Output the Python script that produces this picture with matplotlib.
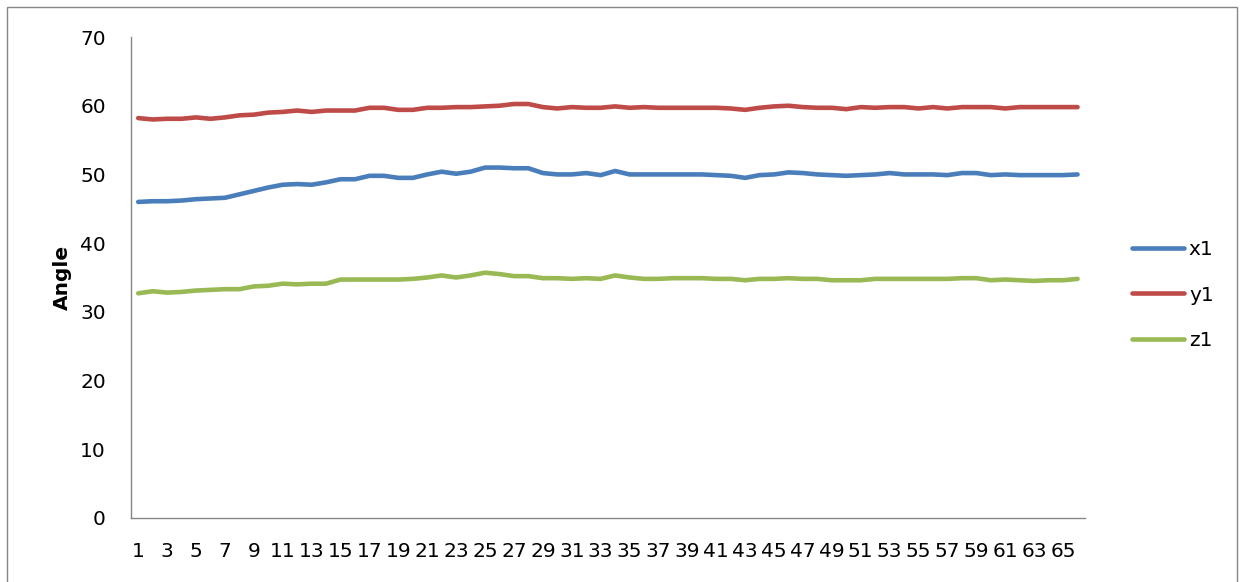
import matplotlib
matplotlib.use("Agg")
import matplotlib.pyplot as plt
from matplotlib.patches import Rectangle

# Sample index (category axis) and the three measured angles
samples = list(range(1, 67))
x1 = [46.0, 46.1, 46.1, 46.2, 46.4, 46.5, 46.6, 47.1, 47.6, 48.1,
      48.5, 48.6, 48.5, 48.85, 49.3, 49.3, 49.8, 49.8, 49.5, 49.5,
      50.0, 50.4, 50.1, 50.4, 51.0, 51.0, 50.9, 50.9, 50.2, 50.0,
      50.0, 50.2, 49.9, 50.5, 50.0, 50.0, 50.0, 50.0, 50.0, 50.0,
      49.9, 49.8, 49.5, 49.9, 50.0, 50.3, 50.2, 50.0, 49.9, 49.8,
      49.9, 50.0, 50.2, 50.0, 50.0, 50.0, 49.9, 50.2, 50.2, 49.9,
      50.0, 49.9, 49.9, 49.9, 49.9, 50.0]
y1 = [58.2, 58.0, 58.1, 58.1, 58.3, 58.1, 58.3, 58.6, 58.7, 59.0,
      59.1, 59.3, 59.1, 59.3, 59.3, 59.3, 59.7, 59.7, 59.4, 59.4,
      59.7, 59.7, 59.8, 59.8, 59.9, 60.0, 60.25, 60.25, 59.8, 59.6,
      59.8, 59.7, 59.7, 59.9, 59.7, 59.8, 59.7, 59.7, 59.7, 59.7,
      59.7, 59.6, 59.4, 59.7, 59.9, 60.0, 59.8, 59.7, 59.7, 59.5,
      59.8, 59.7, 59.8, 59.8, 59.6, 59.8, 59.6, 59.8, 59.8, 59.8,
      59.6, 59.8, 59.8, 59.8, 59.8, 59.8]
z1 = [32.7, 33.0, 32.8, 32.9, 33.1, 33.2, 33.3, 33.3, 33.7, 33.8,
      34.1, 34.0, 34.1, 34.1, 34.7, 34.7, 34.7, 34.7, 34.7, 34.8,
      35.0, 35.3, 35.0, 35.3, 35.7, 35.5, 35.2, 35.2, 34.9, 34.9,
      34.8, 34.9, 34.8, 35.3, 35.0, 34.8, 34.8, 34.9, 34.9, 34.9,
      34.8, 34.8, 34.6, 34.8, 34.8, 34.9, 34.8, 34.8, 34.6, 34.6,
      34.6, 34.8, 34.8, 34.8, 34.8, 34.8, 34.8, 34.9, 34.9, 34.6,
      34.7, 34.6, 34.5, 34.6, 34.6, 34.8]

series = [("x1", x1, "#4A7EBB"), ("y1", y1, "#BE4B48"), ("z1", z1, "#98B954")]
y_ticks = [0, 10, 20, 30, 40, 50, 60, 70]
x_tick_labels = [str(s) for s in samples if s % 2 == 1]

plt.rcParams["font.family"] = ["DejaVu Sans"]

fig = plt.figure(figsize=(12.44, 5.82), dpi=100)
ax = fig.add_axes([0.1053, 0.110, 0.7667, 0.8264])

for name, vals, color in series:
    ax.plot(samples, vals, color=color, lw=3.3, label=name,
            solid_joinstyle="round", solid_capstyle="round")

n = len(samples)
ax.set_xlim(0.5, n + 0.5)
ax.set_ylim(0, 70)
ax.set_yticks(y_ticks)
ax.set_xticks([s for s in samples if s % 2 == 1])
ax.set_xticklabels(x_tick_labels)
ax.tick_params(axis="both", length=0, labelsize=14.5, colors="black")
ax.tick_params(axis="y", pad=18)
ax.tick_params(axis="x", pad=17)

for side in ("top", "right"):
    ax.spines[side].set_visible(False)
for side in ("left", "bottom"):
    ax.spines[side].set_color("#868686")
    ax.spines[side].set_linewidth(1.0)

ax.set_ylabel("Angle", fontsize=14.5, fontweight="bold", labelpad=6)

leg = ax.legend(loc="center left", bbox_to_anchor=(1.049, 0.4636), frameon=False,
                fontsize=14.5, handlelength=2.6, handletextpad=0.25,
                labelspacing=1.3, borderaxespad=0, borderpad=0)

# outer chart border
fig.patches.append(Rectangle((7 / 1244, -0.05), 1230 / 1244, 1.05 - 7 / 582,
                             transform=fig.transFigure, fill=False,
                             edgecolor="#868686", lw=1.0, clip_on=False))

fig.savefig("out.png", dpi=100)
